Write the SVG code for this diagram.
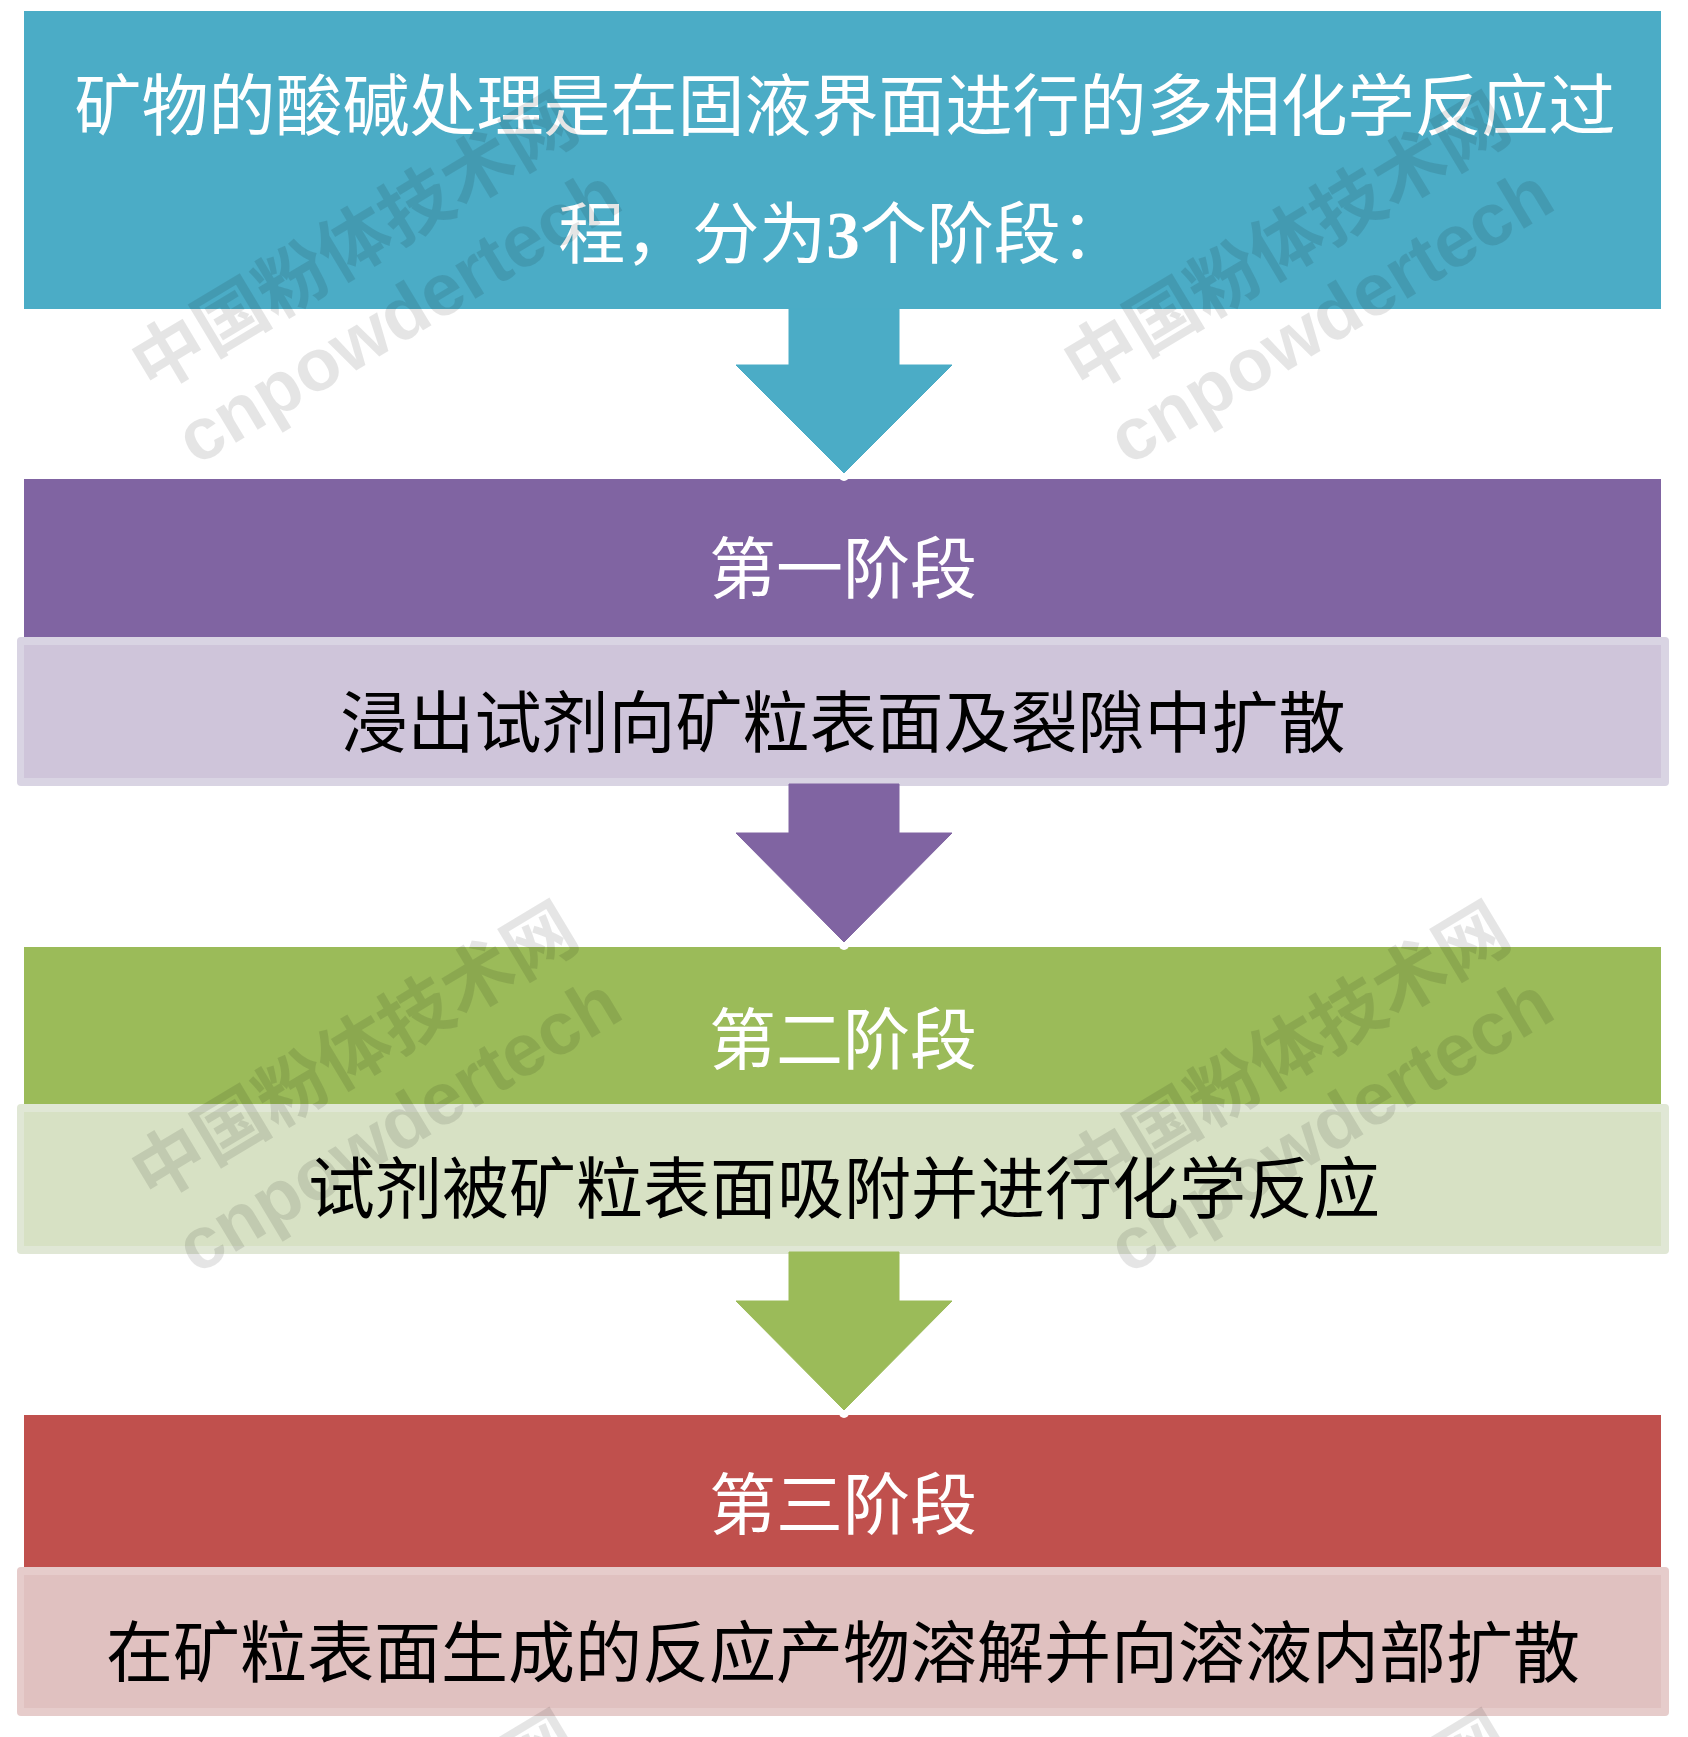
<svg xmlns="http://www.w3.org/2000/svg" width="1688" height="1737" viewBox="0 0 1688 1737">
<style>
.t{font-family:"Liberation Serif","Noto Sans CJK SC",serif;font-size:67px;text-anchor:middle}
.w{fill:#ffffff}
.k{fill:#000000}
.wm1{font-family:"Noto Sans CJK SC",sans-serif;font-weight:700;font-size:72px;text-anchor:middle;fill:#000;fill-opacity:0.1}
.wm2{font-family:"Liberation Sans","Noto Sans",sans-serif;font-weight:700;font-size:74px;text-anchor:middle;fill:#000;fill-opacity:0.1}
</style>
<defs>
<g id="wm">
<text class="wm1" x="0" y="24">中国粉体技术网</text>
<text class="wm2" x="0" y="109">cnpowdertech</text>
</g>
</defs>
<rect x="0" y="0" width="1688" height="1737" fill="#ffffff"/>

<g id="intro">
<rect x="24" y="11" width="1637" height="298" fill="#4BACC6"/>
<text class="t w" x="845" y="130">矿物的酸碱处理是在固液界面进行的多相化学反应过</text>
<text class="t w" x="843" y="258">程，分为<tspan font-weight="bold">3</tspan>个阶段：</text>
</g>

<g id="stage1">
<rect x="24" y="479" width="1637" height="158" fill="#8064A2"/>
<text class="t w" x="843" y="593">第一阶段</text>
<rect x="17" y="637" width="1652" height="149" rx="4" fill="#d9d4e3"/>
<rect x="24" y="645" width="1637" height="133" fill="#cfc5da"/>
<text class="t k" x="843" y="747">浸出试剂向矿粒表面及裂隙中扩散</text>
</g>

<g id="stage2">
<rect x="24" y="947" width="1637" height="157" fill="#9BBB59"/>
<text class="t w" x="843" y="1064">第二阶段</text>
<rect x="17" y="1104" width="1652" height="150" rx="4" fill="#e0e7d5"/>
<rect x="24" y="1112" width="1637" height="134" fill="#d7e1c4"/>
<text class="t k" x="844" y="1213">试剂被矿粒表面吸附并进行化学反应</text>
</g>

<g id="stage3">
<rect x="24" y="1415" width="1637" height="152" fill="#C0504D"/>
<text class="t w" x="843" y="1529">第三阶段</text>
<rect x="17" y="1567" width="1652" height="149" rx="4" fill="#e6cccb"/>
<rect x="24" y="1575" width="1637" height="133" fill="#e0c1c0"/>
<text class="t k" x="843" y="1677">在矿粒表面生成的反应产物溶解并向溶液内部扩散</text>
</g>

<g id="connectors">
<circle cx="844" cy="476" r="5" fill="#ffffff"/>
<polygon points="789,309 899,309 899,365 952,365 844,473 736,365 789,365" fill="#4BACC6" stroke="#4BACC6" stroke-width="1" stroke-linejoin="round"/>
<circle cx="844" cy="945" r="5" fill="#ffffff"/>
<polygon points="789,784 899,784 899,833 952,833 844,942 736,833 789,833" fill="#8064A2" stroke="#8064A2" stroke-width="1" stroke-linejoin="round"/>
<circle cx="844" cy="1413" r="5" fill="#ffffff"/>
<polygon points="789,1252 899,1252 899,1301 952,1301 844,1410 736,1301 789,1301" fill="#9BBB59" stroke="#9BBB59" stroke-width="1" stroke-linejoin="round"/>
</g>

<g id="watermarks">
<use href="#wm" transform="translate(355,244) rotate(-31)"/>
<use href="#wm" transform="translate(1287,244) rotate(-31)"/>
<use href="#wm" transform="translate(355,1053) rotate(-31)"/>
<use href="#wm" transform="translate(1287,1053) rotate(-31)"/>
<use href="#wm" transform="translate(355,1862) rotate(-31)"/>
<use href="#wm" transform="translate(1287,1862) rotate(-31)"/>
</g>
</svg>
